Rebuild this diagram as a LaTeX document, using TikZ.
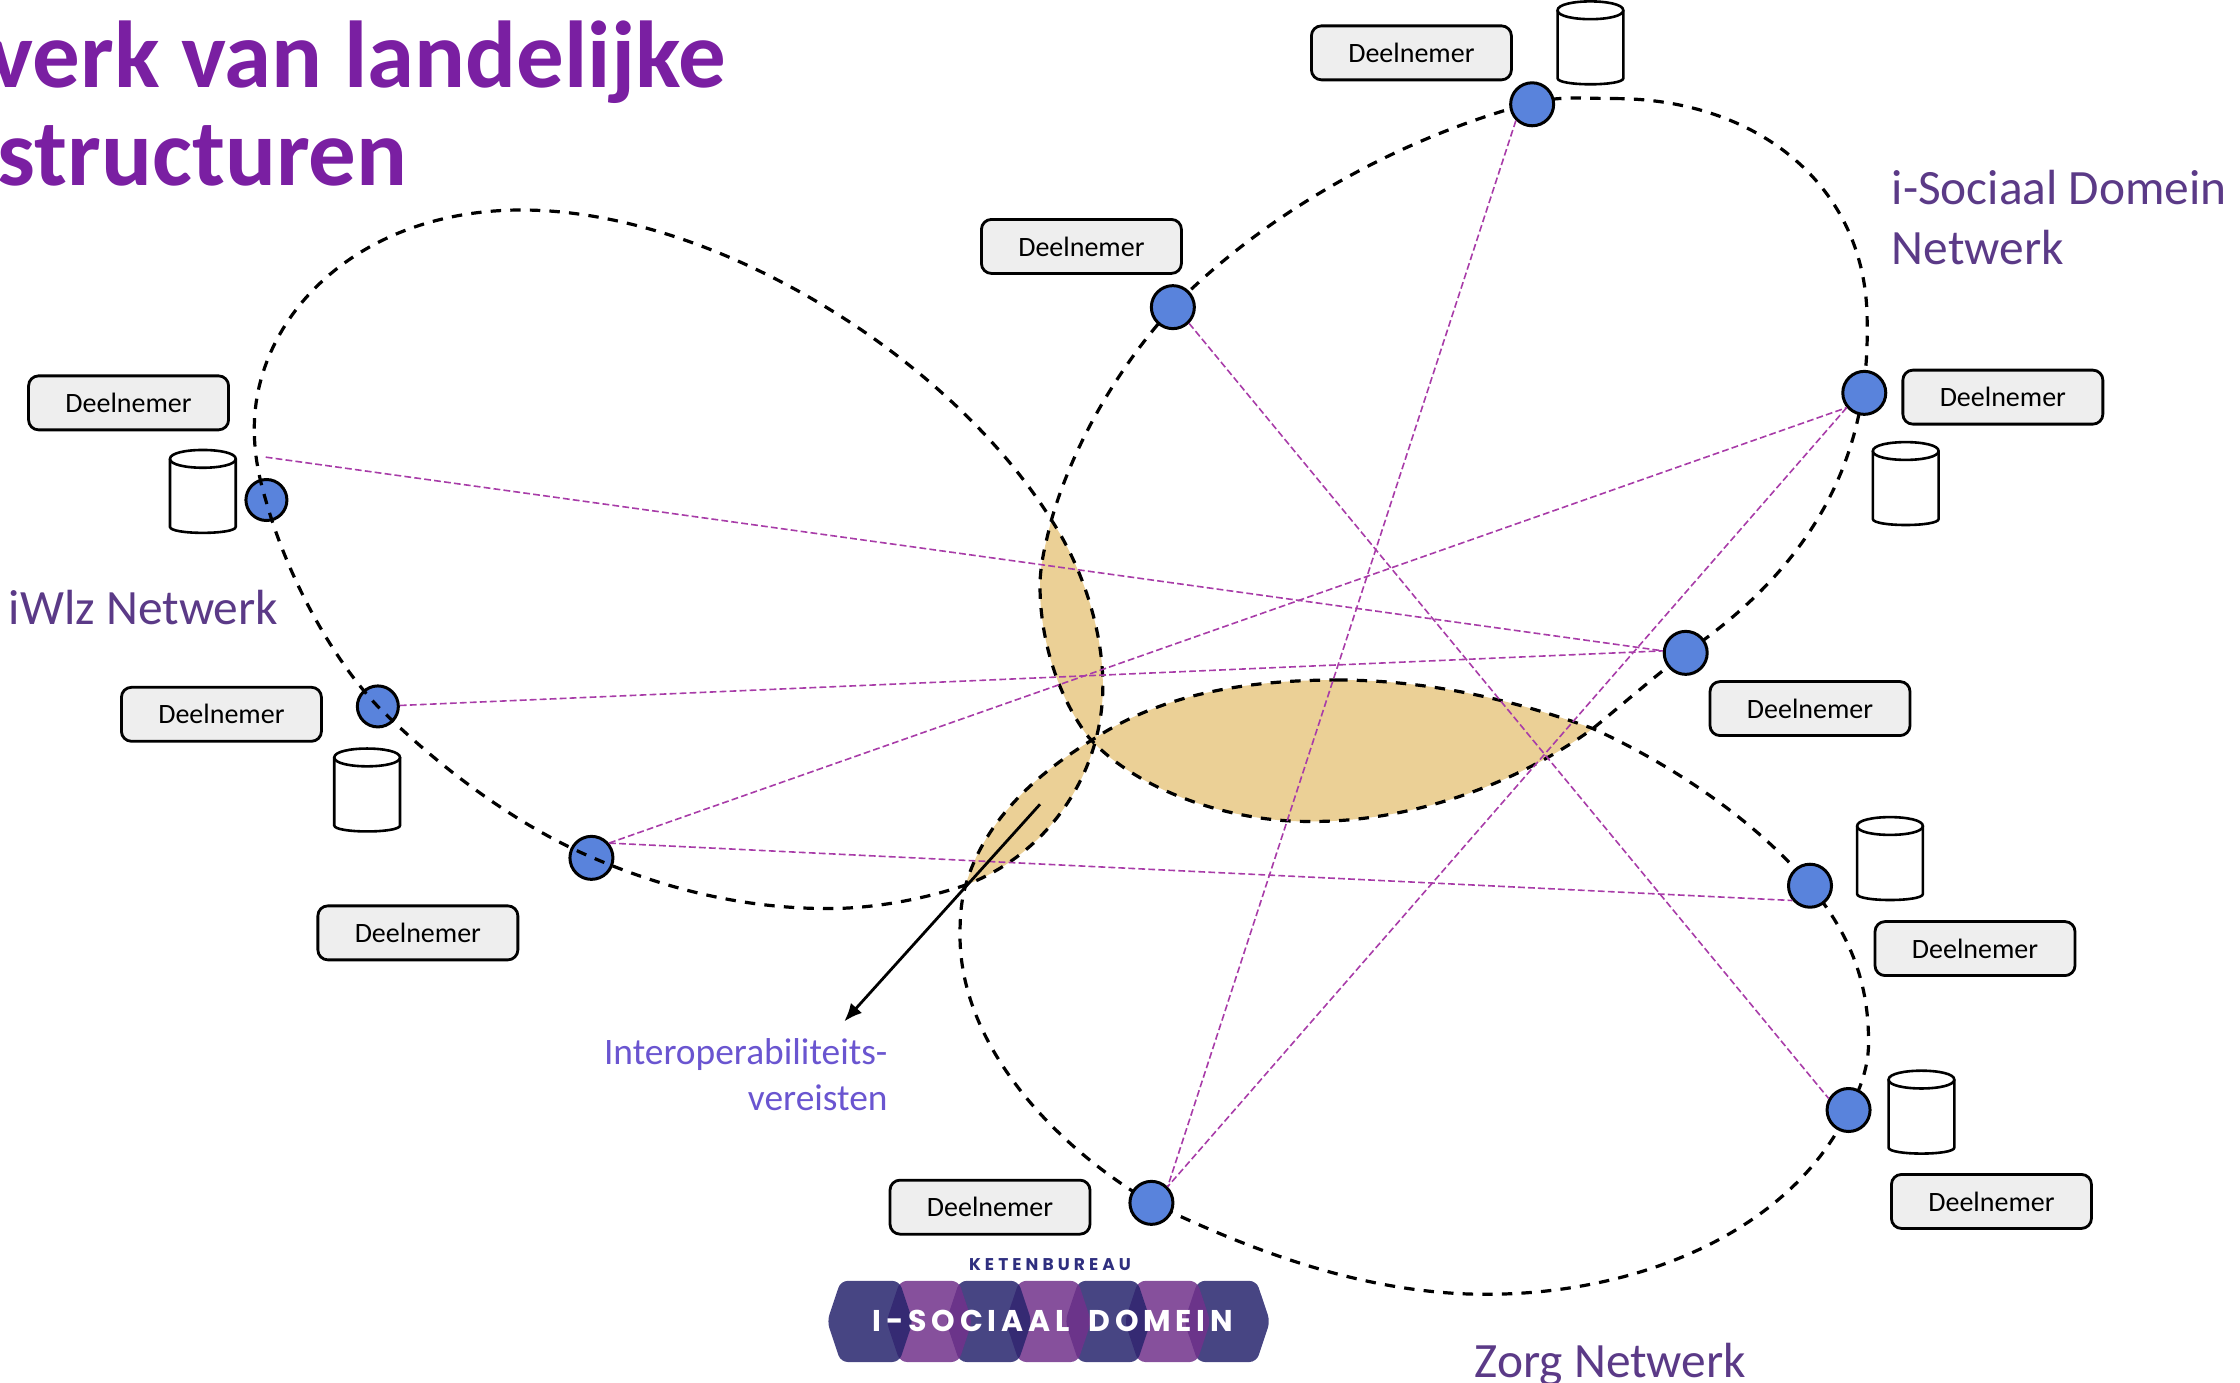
\documentclass[tikz,border=0pt]{standalone}
\usepackage{fontspec}
\setmainfont{Carlito}
\newfontfamily\logofont[LetterSpace=16]{Poppins}
\newfontfamily\logosmall[LetterSpace=24]{Poppins}
\usetikzlibrary{arrows.meta}
\definecolor{titlepurple}{HTML}{7A1FA2}
\definecolor{netpurple}{HTML}{5B3A87}
\definecolor{interblue}{HTML}{6A55D0}
\definecolor{nodeblue}{HTML}{5983DC}
\definecolor{boxgrey}{HTML}{EEEEEE}
\definecolor{lensfill}{HTML}{EBD096}
\definecolor{linkpurple}{HTML}{A83CA8}
\definecolor{hexdark}{HTML}{27246D}
\definecolor{hexpurple}{HTML}{71318B}
\definecolor{logoblue}{HTML}{2F2F7F}
\tikzset{
 x=0.714286pt,y=-0.714286pt,
 iwlzpath/.style={insert path={(178,300) .. controls (178,222) and (250,147) .. (365,147)
   .. controls (500,147) and (665,250) .. (736,364)
   .. controls (757,396) and (772,440) .. (772,480)
   .. controls (772,540) and (735,597) .. (676,619.5)
   .. controls (645,630) and (610,636) .. (580,636)
   .. controls (520,636) and (465,622) .. (414,600)
   .. controls (360,577) and (305,535) .. (264,494)
   .. controls (230,458) and (200,400) .. (186,350)
   .. controls (180,330) and (178,315) .. (178,300) -- cycle}},
 sociaalpath/.style={insert path={(1130,69) .. controls (1230,69) and (1307,130) .. (1307,225)
   .. controls (1309,320) and (1270,395) .. (1180,457)
   .. controls (1160,472) and (1137,492) .. (1115,510)
   .. controls (1060,550) and (985,576) .. (915,575)
   .. controls (860,575) and (795,553) .. (762,516)
   .. controls (742,490) and (728,450) .. (728,410)
   .. controls (728,395) and (732,380) .. (736,364)
   .. controls (750,315) and (780,260) .. (821,215)
   .. controls (890,145) and (985,95) .. (1072,72)
   .. controls (1092,67) and (1110,69) .. (1130,69) -- cycle}},
 zorgpath/.style={insert path={(936,476) .. controls (1000,476) and (1060,490) .. (1115,510)
   .. controls (1170,535) and (1230,575) .. (1267,620)
   .. controls (1300,660) and (1308,695) .. (1308,730)
   .. controls (1308,745) and (1303,762) .. (1294,777)
   .. controls (1255,860) and (1150,906) .. (1040,906)
   .. controls (955,906) and (875,875) .. (806,842)
   .. controls (735,800) and (672,730) .. (672,655)
   .. controls (672,640) and (673,630) .. (676,619.5)
   .. controls (688,578) and (720,545) .. (766,517)
   .. controls (815,485) and (875,476) .. (936,476) -- cycle}},
 looppen/.style={draw=black,line width=1.6pt,dash pattern=on 5.2pt off 4.6pt},
 peer/.style={circle,draw=black,fill=nodeblue,line width=1.5pt,minimum size=21.5pt,inner sep=0pt},
 deelbox/.style={rectangle,rounded corners=5pt,draw=black,fill=boxgrey,line width=1.4pt,minimum width=100pt,minimum height=27pt,inner sep=0pt,font=\fontsize{14}{16}\selectfont},
 link/.style={draw=linkpurple,line width=0.8pt,dash pattern=on 3.4pt off 1.6pt},
 netlabel/.style={text=netpurple,font=\fontsize{24.7}{30}\selectfont,inner sep=0pt},
 titletext/.style={text=titlepurple,font=\fontsize{47.5}{50}\bfseries\selectfont,inner sep=0pt},
 hexa/.style={rounded corners=3.5pt,fill opacity=.85},
 pics/dbstore/.style={code={
   \draw[draw=black,fill=white,line width=1.3pt] (-23,-22.8) -- (-23,24.8) .. controls (-23,30.4) and (23,30.4) .. (23,24.8) -- (23,-22.8);
   \draw[draw=black,fill=white,line width=1.3pt] (-23,-22.8) .. controls (-23,-31.1) and (23,-31.1) .. (23,-22.8) .. controls (23,-14.5) and (-23,-14.5) .. (-23,-22.8) -- cycle;
 }},
 pics/hexcell/.style={code={
   \fill[hexa,fill=#1] (-20.5,-28.4) -- (20.5,-28.4) -- (30,0) -- (20.5,28.4) -- (-20.5,28.4) -- (-30,0) -- cycle;
 }},
}
\begin{document}
\begin{tikzpicture}
\useasboundingbox (0,0) rectangle (1568,968.1);
\clip (0,0) rectangle (1568,968.1);
% overlap lenses
\begin{scope}\clip[iwlzpath];\fill[lensfill,sociaalpath];\end{scope}
\begin{scope}\clip[iwlzpath];\fill[lensfill,zorgpath];\end{scope}
\begin{scope}\clip[zorgpath];\fill[lensfill,sociaalpath];\end{scope}
% loops
\path[looppen,sociaalpath];
\path[looppen,zorgpath];
% participant nodes
\node[peer] (s1) at (1072.5,73) {};
\node[peer] (s2) at (821,215) {};
\node[peer] (s3) at (1305,275) {};
\node[peer] (s4) at (1180,457) {};
\node[peer,minimum size=20.5pt] (i1) at (186.5,350) {};
\node[peer,minimum size=20.5pt] (i2) at (264.5,494.5) {};
\node[peer] (i3) at (414,600.5) {};
\node[peer] (z1) at (1267,620) {};
\node[peer] (z2) at (1294,777) {};
\node[peer] (z3) at (806,842) {};
\path[looppen,iwlzpath];
\coordinate (i1free) at (186,320);
% links
\draw[link] (i1free) -- (s4.175);
\draw[link] (i2) -- (s4.175);
\draw[link] (i3.40) -- (s3.220);
\draw[link] (i3.40) -- (z1.220);
\draw[link] (s2.-45) -- (z2.150);
\draw[link] (s1.225) -- (z3.45);
\draw[link] (s3.220) -- (z3.45);
% boxes
\node[deelbox] (d1) at (988,37) {Deelnemer};
\node[deelbox] (d2) at (757,172.5) {Deelnemer};
\node[deelbox] (d3) at (1402,278) {Deelnemer};
\node[deelbox] (d4) at (1267,496) {Deelnemer};
\node[deelbox] (d5) at (90,282) {Deelnemer};
\node[deelbox] (d6) at (155,500) {Deelnemer};
\node[deelbox] (d7) at (292.5,653) {Deelnemer};
\node[deelbox] (d8) at (1382.5,664) {Deelnemer};
\node[deelbox] (d9) at (1394,841) {Deelnemer};
\node[deelbox] (d10) at (693,845) {Deelnemer};
% stores
\pic (c1) at (1113.3,30) {dbstore};
\pic (c2) at (1334,338.5) {dbstore};
\pic (c3) at (142,344) {dbstore};
\pic (c4) at (257,553) {dbstore};
\pic (c5) at (1323,601) {dbstore};
\pic (c6) at (1345,778.5) {dbstore};
% arrow
\coordinate (arrowstart) at (728,563);
\coordinate (arrowend) at (591,715);
\draw[line width=1.4pt,-{Latex[length=9pt,width=7.5pt]}] (arrowstart) -- (arrowend);
\node[anchor=base east,inner sep=0pt,text=interblue,font=\fontsize{18.7}{22}\selectfont] (inter1) at (621.5,745) {Interoperabiliteits-};
\node[anchor=base east,inner sep=0pt,text=interblue,font=\fontsize{18.7}{22}\selectfont] (inter2) at (621.5,777) {vereisten};
% labels
\node[netlabel,anchor=base west] (lab1) at (1324,143) {i-Sociaal Domein};
\node[netlabel,anchor=base west] (lab1b) at (1324,185) {Netwerk};
\node[netlabel,anchor=base west] (lab2) at (6,437) {iWlz Netwerk};
\node[netlabel,anchor=base west] (lab3) at (1032,964) {Zorg Netwerk};
\node[titletext,anchor=base east] (t1) at (508.5,61) {verk van landelijke};
\node[titletext,anchor=base east] (t2) at (285.5,129.5) {structuren};
% logo
\pic at (859,925) {hexcell=hexdark};
\pic at (817.3,925) {hexcell=hexpurple};
\pic at (775.6,925) {hexcell=hexdark};
\pic at (733.9,925) {hexcell=hexpurple};
\pic at (692.2,925) {hexcell=hexdark};
\pic at (650.5,925) {hexcell=hexpurple};
\pic at (609,925) {hexcell=hexdark};
\node[anchor=base,inner sep=0pt,text=white,font=\logofont\fontsize{15}{15}\bfseries\selectfont] (logo) at (737,932) {I-SOCIAAL\hspace{4pt} DOMEIN};
\node[anchor=base,inner sep=0pt,text=logoblue,font=\logosmall\fontsize{8.5}{10}\bfseries\selectfont] (logob) at (735,889) {KETENBUREAU};
\end{tikzpicture}
\end{document}
